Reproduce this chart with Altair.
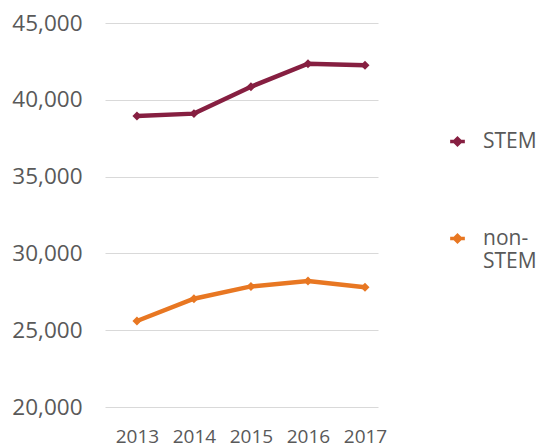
import altair as alt
import pandas as pd

years = [2013, 2014, 2015, 2016, 2017]
stem = [38950, 39100, 40850, 42350, 42250]
non_stem = [25600, 27050, 27850, 28200, 27800]
series_names = ["STEM", "non-STEM"]
colors = ["#861F41", "#E87722"]
y_ticks = [20000, 25000, 30000, 35000, 40000, 45000]

rows = []
for y, v in zip(years, stem):
    rows.append({"year": y, "value": v, "series": "STEM"})
for y, v in zip(years, non_stem):
    rows.append({"year": y, "value": v, "series": "non-STEM"})
df = pd.DataFrame(rows)

FONT = "Open Sans"
TXT = "#595959"

chart = alt.Chart(df).mark_line(
    strokeWidth=4.5,
    point=alt.OverlayMarkDef(shape="diamond", size=80, filled=True),
).encode(
    x=alt.X("year:Q", scale=alt.Scale(domain=[2012.44, 2017.228], nice=False, zero=False),
            axis=alt.Axis(title=None, values=years, format="d", labelAngle=0,
                          domain=False, ticks=False, tickSize=0,
                          labelFontSize=19, labelColor=TXT, labelFont=FONT, labelPadding=20,
                          grid=False, labelFlush=False)),
    y=alt.Y("value:Q", scale=alt.Scale(domain=[20000, 45000], nice=False, zero=False),
            axis=alt.Axis(title=None, values=y_ticks,
                          format=",.0f", domain=False, ticks=False, tickSize=0,
                          labelFontSize=22.5, labelColor=TXT, labelFont=FONT, labelPadding=23,
                          grid=True, gridColor="#D9D9D9", gridWidth=1)),
    color=alt.Color("series:N",
                    scale=alt.Scale(domain=series_names, range=colors),
                    legend=alt.Legend(
                        title=None, orient="none", legendX=342, legendY=108,
                        labelExpr="datum.label == 'non-STEM' ? ['non-', 'STEM'] : datum.label",
                        labelFontSize=21, labelColor=TXT, labelFont=FONT,
                        labelBaseline="middle", labelLimit=200,
                        symbolType="M-1.2,0L1.2,0M0,-0.5L0.5,0L0,0.5L-0.5,0Z",
                        symbolSize=150, symbolStrokeWidth=3.5, symbolFillColor=None,
                        labelOffset=15, rowPadding=75,
                    )),
).properties(
    width=273, height=384,
    autosize=alt.AutoSizeParams(type="none"),
    padding={"left": 97, "top": 15, "right": 160, "bottom": 42},
).configure_view(stroke=None)

chart.save("out.html", embed_options={"renderer": "svg", "actions": False})
